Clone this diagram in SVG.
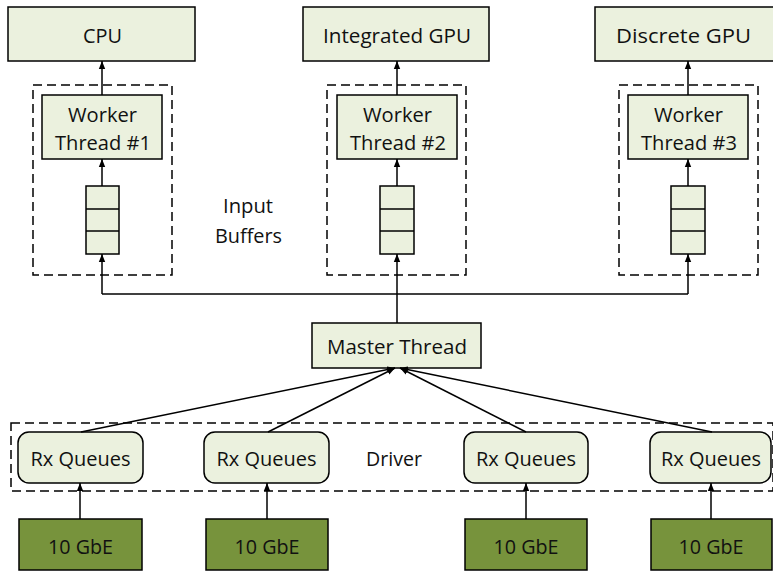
<svg xmlns="http://www.w3.org/2000/svg" width="773" height="571" viewBox="0 0 773 571">
<style>
.box{fill:#EBF1DE;stroke:#000;stroke-width:1.5}
.dark{fill:#77933C;stroke:#000;stroke-width:1.5}
.dash{fill:none;stroke:#000;stroke-width:1.5;stroke-dasharray:9 5}
.ln{fill:none;stroke:#000;stroke-width:1.5}
.con{fill:none;stroke:#000;stroke-width:1.5;marker-end:url(#ah)}
text{font-family:"Open Sans","Liberation Sans",sans-serif;font-size:20px;fill:#111;text-anchor:middle}
</style>
<defs>
<marker id="ah" markerWidth="8" markerHeight="8" viewBox="0 0 8 8" refX="8" refY="4" orient="auto" markerUnits="userSpaceOnUse">
<path d="M0,0.8 L8,4 L0,7.2 Z" fill="#000"/>
</marker>
</defs>
<rect width="773" height="571" fill="#fff"/>

<g id="cpu"><rect class="box" x="8" y="7" width="187" height="54"/><text x="102.5" y="43" textLength="39" lengthAdjust="spacingAndGlyphs">CPU</text></g>
<g id="igpu"><rect class="box" x="303" y="7" width="186" height="54"/><text x="397" y="43" textLength="148" lengthAdjust="spacingAndGlyphs">Integrated GPU</text></g>
<g id="dgpu"><rect class="box" x="595" y="7" width="179" height="54"/><text x="683.5" y="43" textLength="135" lengthAdjust="spacingAndGlyphs">Discrete GPU</text></g>

<g id="group1"><rect class="dash" x="33" y="85" width="139" height="190"/></g>
<g id="group2"><rect class="dash" x="327" y="85" width="139" height="190"/></g>
<g id="group3"><rect class="dash" x="619" y="85" width="139" height="190"/></g>

<g id="worker1"><rect class="box" x="42" y="95" width="120" height="64"/><text x="102.5" y="122" textLength="69" lengthAdjust="spacingAndGlyphs">Worker</text><text x="103" y="150" textLength="96" lengthAdjust="spacingAndGlyphs">Thread #1</text></g>
<g id="worker2"><rect class="box" x="337" y="95" width="120" height="64"/><text x="397.5" y="122" textLength="69" lengthAdjust="spacingAndGlyphs">Worker</text><text x="398" y="150" textLength="96" lengthAdjust="spacingAndGlyphs">Thread #2</text></g>
<g id="worker3"><rect class="box" x="628" y="95" width="120" height="64"/><text x="688.5" y="122" textLength="69" lengthAdjust="spacingAndGlyphs">Worker</text><text x="689" y="150" textLength="96" lengthAdjust="spacingAndGlyphs">Thread #3</text></g>

<g id="buffer1"><rect class="box" x="86" y="186" width="33" height="68"/><line class="ln" x1="86" y1="209" x2="119" y2="209"/><line class="ln" x1="86" y1="231" x2="119" y2="231"/></g>
<g id="buffer2"><rect class="box" x="380" y="186" width="34" height="68"/><line class="ln" x1="380" y1="209" x2="414" y2="209"/><line class="ln" x1="380" y1="231" x2="414" y2="231"/></g>
<g id="buffer3"><rect class="box" x="671" y="186" width="34" height="68"/><line class="ln" x1="671" y1="209" x2="705" y2="209"/><line class="ln" x1="671" y1="231" x2="705" y2="231"/></g>

<g id="input-buffers-label"><text x="248" y="213" textLength="50" lengthAdjust="spacingAndGlyphs">Input</text><text x="248.5" y="243" textLength="67" lengthAdjust="spacingAndGlyphs">Buffers</text></g>

<g id="master"><rect class="box" x="312" y="323" width="169" height="45"/><text x="397" y="354" textLength="140" lengthAdjust="spacingAndGlyphs">Master Thread</text></g>

<g id="driver"><rect class="dash" x="11" y="423" width="762" height="68"/><text x="394" y="466" textLength="56" lengthAdjust="spacingAndGlyphs">Driver</text></g>

<g id="rx1"><rect class="box" x="18" y="432" width="125" height="51" rx="11"/><text x="80.5" y="466" textLength="100" lengthAdjust="spacingAndGlyphs">Rx Queues</text></g>
<g id="rx2"><rect class="box" x="204" y="432" width="125" height="51" rx="11"/><text x="266.5" y="466" textLength="100" lengthAdjust="spacingAndGlyphs">Rx Queues</text></g>
<g id="rx3"><rect class="box" x="464" y="432" width="124" height="51" rx="11"/><text x="526" y="466" textLength="100" lengthAdjust="spacingAndGlyphs">Rx Queues</text></g>
<g id="rx4"><rect class="box" x="650" y="432" width="121" height="51" rx="11"/><text x="711" y="466" textLength="100" lengthAdjust="spacingAndGlyphs">Rx Queues</text></g>

<g id="gbe1"><rect class="dark" x="19" y="519" width="123" height="51"/><text x="80.5" y="554" textLength="65" lengthAdjust="spacingAndGlyphs">10 GbE</text></g>
<g id="gbe2"><rect class="dark" x="206" y="519" width="122" height="51"/><text x="267" y="554" textLength="65" lengthAdjust="spacingAndGlyphs">10 GbE</text></g>
<g id="gbe3"><rect class="dark" x="465" y="519" width="122" height="51"/><text x="526" y="554" textLength="65" lengthAdjust="spacingAndGlyphs">10 GbE</text></g>
<g id="gbe4"><rect class="dark" x="651" y="519" width="121" height="51"/><text x="711" y="554" textLength="65" lengthAdjust="spacingAndGlyphs">10 GbE</text></g>

<g id="connectors">
<line class="con" x1="102" y1="95" x2="102" y2="61"/>
<line class="con" x1="397" y1="95" x2="397" y2="61"/>
<line class="con" x1="688" y1="95" x2="688" y2="61"/>
<line class="con" x1="102" y1="186" x2="102" y2="159"/>
<line class="con" x1="397" y1="186" x2="397" y2="159"/>
<line class="con" x1="688" y1="186" x2="688" y2="159"/>
<line class="ln" x1="102" y1="294" x2="688" y2="294"/>
<line class="ln" x1="397" y1="323" x2="397" y2="294"/>
<line class="con" x1="102" y1="294" x2="102" y2="254"/>
<line class="con" x1="397" y1="294" x2="397" y2="254"/>
<line class="con" x1="688" y1="294" x2="688" y2="254"/>
<line class="con" x1="81" y1="432" x2="395" y2="368"/>
<line class="con" x1="268" y1="432" x2="395" y2="368"/>
<line class="con" x1="526" y1="432" x2="400" y2="368"/>
<line class="con" x1="712" y1="432" x2="400" y2="368"/>
<line class="con" x1="80" y1="519" x2="80" y2="483"/>
<line class="con" x1="267" y1="519" x2="267" y2="483"/>
<line class="con" x1="526" y1="519" x2="526" y2="483"/>
<line class="con" x1="711" y1="519" x2="711" y2="483"/>
</g>
</svg>
